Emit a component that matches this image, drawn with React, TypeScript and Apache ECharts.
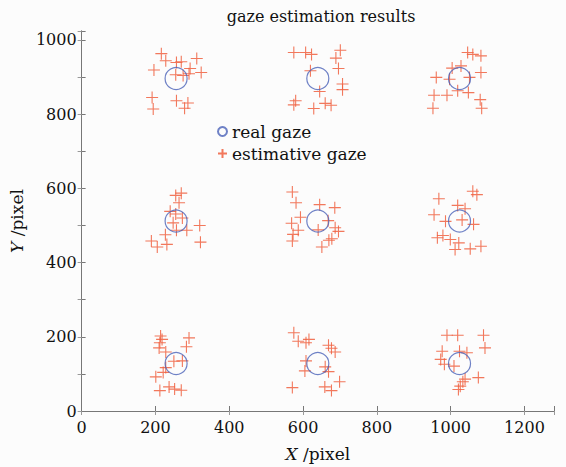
import React, { useEffect, useRef } from "react";
import * as echarts from "echarts";

const titleText = "gaze estimation results";
const seriesNames = ["real gaze", "estimative gaze"];
const xTicks = [0, 200, 400, 600, 800, 1000, 1200];
const yTicks = [0, 200, 400, 600, 800, 1000];

const realGaze: [number, number][] = [
  [256, 896], [640, 896], [1024, 896],
  [256, 512], [640, 512], [1024, 512],
  [256, 128], [640, 128], [1024, 128],
];

const estTopLeft: [number, number][] = [
  [216, 963], [228, 944], [257, 939], [270, 941], [312, 950], [196, 919],
  [294, 923], [324, 912], [255, 906], [275, 904], [291, 909], [191, 845],
  [194, 814], [257, 836], [288, 830], [279, 816],
];
const estTopMid: [number, number][] = [
  [575, 966], [607, 966], [623, 961], [701, 972], [689, 951], [696, 923],
  [620, 917], [707, 881], [707, 866], [645, 861], [580, 836], [575, 825],
  [629, 815], [660, 829], [676, 824],
];
const estTopRight: [number, number][] = [
  [1046, 966], [1060, 961], [1082, 957], [1004, 924], [1028, 930], [1082, 912],
  [961, 899], [997, 894], [1051, 899], [1019, 863], [1048, 858], [955, 851],
  [990, 851], [1080, 839], [952, 816], [1084, 816],
];
const estMidLeft: [number, number][] = [
  [270, 587], [255, 581], [264, 561], [240, 538], [255, 531], [273, 520],
  [248, 507], [257, 487], [285, 487], [320, 500], [227, 475], [189, 458],
  [205, 442], [231, 449], [322, 455],
];
const estMidMid: [number, number][] = [
  [571, 590], [581, 561], [645, 556], [686, 548], [593, 522], [569, 506],
  [668, 513], [641, 488], [687, 494], [696, 484], [587, 487], [573, 476],
  [678, 464], [571, 458], [670, 460], [651, 442],
];
const estMidRight: [number, number][] = [
  [1060, 592], [1071, 583], [968, 572], [1019, 554], [1039, 545], [955, 529],
  [1031, 515], [986, 511], [1062, 503], [979, 473], [964, 467], [999, 462],
  [1022, 453], [1012, 435], [1053, 437], [1082, 444],
];
const estBotLeft: [number, number][] = [
  [214, 202], [218, 193], [212, 184], [291, 197], [284, 173], [210, 170],
  [228, 159], [250, 134], [273, 135], [228, 117], [221, 104], [201, 92],
  [212, 55], [237, 65], [252, 59], [270, 56],
];
const estBotMid: [number, number][] = [
  [575, 211], [587, 188], [616, 193], [608, 184], [669, 177], [677, 169],
  [687, 159], [608, 135], [660, 119], [669, 106], [605, 108], [699, 79],
  [571, 63], [659, 65], [677, 55],
];
const estBotRight: [number, number][] = [
  [990, 204], [1019, 204], [1089, 204], [1093, 170], [977, 161], [1024, 161],
  [1044, 157], [973, 139], [983, 126], [1009, 121], [1075, 90], [1039, 86],
  [1033, 79], [1026, 67], [1021, 58],
];

const estimated = [
  ...estTopLeft, ...estTopMid, ...estTopRight,
  ...estMidLeft, ...estMidMid, ...estMidRight,
  ...estBotLeft, ...estBotMid, ...estBotRight,
];

const FONT = "'DejaVu Serif', 'Liberation Serif', serif";
const crossPath = "path://M0,5 L10,5 M5,0 L5,10";

export default function App() {
  const ref = useRef<HTMLDivElement>(null);
  useEffect(() => {
    if (!ref.current) return;
    const chart = echarts.init(ref.current, null, { renderer: "svg" });
    const xLabelFmt = (v: number) => (xTicks.includes(v) ? String(v) : "");
    const yLabelFmt = (v: number) => (yTicks.includes(v) ? String(v) : "");
    chart.setOption({
      animation: false,
      backgroundColor: "#fcfcfc",
      title: {
        text: titleText,
        left: 316,
        textAlign: "center",
        top: 3,
        textStyle: { fontFamily: FONT, fontSize: 16, fontWeight: "normal", color: "#111" },
      },
      legend: {
        orient: "vertical",
        left: 212,
        top: 118,
        itemWidth: 9,
        itemHeight: 9,
        itemGap: 5,
        data: seriesNames,
        textStyle: { fontFamily: FONT, fontSize: 17, color: "#111" },
      },
      grid: { left: 78, right: 12, top: 31, bottom: 56, containLabel: false },
      xAxis: [
        {
          type: "value",
          min: 0,
          max: 1280,
          interval: 200,
          position: "bottom",
          name: "{i|X} /pixel",
          nameLocation: "middle",
          nameGap: 34,
          nameTextStyle: {
            fontFamily: FONT,
            fontSize: 17,
            color: "#111",
            rich: { i: { fontStyle: "italic", fontFamily: FONT, fontSize: 17, color: "#111" } },
          },
          axisLine: { lineStyle: { color: "#777" } },
          axisTick: { inside: true, length: 5, lineStyle: { color: "#777" } },
          axisLabel: { formatter: xLabelFmt, fontFamily: FONT, fontSize: 16, color: "#111", margin: 8 },
          splitLine: { show: false },
        },
        {
          type: "value",
          min: 0,
          max: 1280,
          interval: 200,
          position: "top",
          axisLine: { lineStyle: { color: "#777" } },
          axisTick: { inside: true, length: 4, lineStyle: { color: "#999" } },
          axisLabel: { show: false },
          splitLine: { show: false },
        },
      ],
      yAxis: [
        {
          type: "value",
          min: 0,
          max: 1024,
          interval: 100,
          position: "left",
          name: "{i|Y} /pixel",
          nameLocation: "middle",
          nameGap: 46,
          nameTextStyle: {
            fontFamily: FONT,
            fontSize: 17,
            color: "#111",
            rich: { i: { fontStyle: "italic", fontFamily: FONT, fontSize: 17, color: "#111" } },
          },
          axisLine: { lineStyle: { color: "#777" } },
          axisTick: { inside: true, length: 4, lineStyle: { color: "#777" } },
          axisLabel: { formatter: yLabelFmt, fontFamily: FONT, fontSize: 16, color: "#111", margin: 5 },
          splitLine: { show: false },
        },
        {
          type: "value",
          min: 0,
          max: 1024,
          interval: 100,
          position: "right",
          axisLine: { lineStyle: { color: "#777" } },
          axisTick: { inside: true, length: 4, lineStyle: { color: "#999" } },
          axisLabel: { show: false },
          splitLine: { show: false },
        },
      ],
      series: [
        {
          name: seriesNames[0],
          type: "scatter",
          xAxisIndex: 0,
          yAxisIndex: 0,
          symbol: "circle",
          symbolSize: 22,
          itemStyle: { color: "transparent", borderColor: "#4a62b8", borderWidth: 1.2 },
          data: realGaze,
          z: 3,
        },
        {
          name: seriesNames[1],
          type: "scatter",
          xAxisIndex: 0,
          yAxisIndex: 0,
          symbol: crossPath,
          symbolSize: 12,
          itemStyle: { color: "transparent", borderColor: "#f06040", borderWidth: 1.1, opacity: 0.85 },
          data: estimated,
          z: 2,
        },
      ],
    });
    return () => chart.dispose();
  }, []);
  return (
    <div
      ref={ref}
      style={{ position: "fixed", left: 0, top: 0, width: 566, height: 467 }}
    />
  );
}
